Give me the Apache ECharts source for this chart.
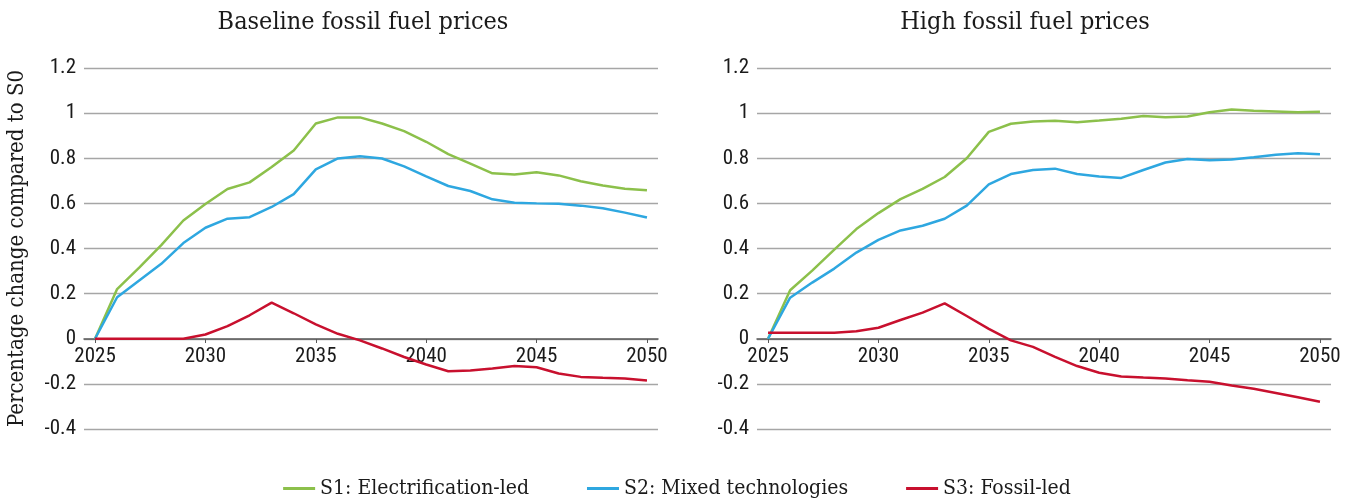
<!DOCTYPE html>
<html>
<head>
<meta charset="utf-8">
<script src="https://cdn.jsdelivr.net/npm/echarts@6/dist/echarts.min.js"></script>
<style>
html,body{margin:0;padding:0;background:#fff;}
#chart{width:1354px;height:502px;}
</style>
</head>
<body>
<div id="chart"></div>
<script>
const years = ['2025','2026','2027','2028','2029','2030','2031','2032','2033','2034','2035','2036','2037','2038','2039','2040','2041','2042','2043','2044','2045','2046','2047','2048','2049','2050'];
const seriesNames = ['S1: Electrification-led','S2: Mixed technologies','S3: Fossil-led'];
const panelTitles = ['Baseline fossil fuel prices','High fossil fuel prices'];
const yAxisTitle = 'Percentage change compared to S0';

const baseS1 = [0,0.22,0.315,0.415,0.524,0.597,0.664,0.693,0.761,0.834,0.954,0.981,0.981,0.954,0.92,0.873,0.818,0.776,0.733,0.728,0.738,0.724,0.698,0.679,0.665,0.658];
const baseS2 = [0,0.184,0.258,0.332,0.424,0.492,0.532,0.539,0.584,0.641,0.751,0.799,0.809,0.799,0.764,0.72,0.677,0.655,0.618,0.603,0.6,0.598,0.59,0.578,0.559,0.537];
const baseS3 = [0,0,0,0,0,0.019,0.056,0.104,0.16,0.113,0.064,0.022,-0.007,-0.043,-0.081,-0.114,-0.144,-0.141,-0.132,-0.121,-0.126,-0.154,-0.169,-0.173,-0.176,-0.185];

const highS1 = [0,0.215,0.302,0.395,0.486,0.557,0.619,0.664,0.717,0.8,0.917,0.953,0.963,0.966,0.96,0.967,0.975,0.987,0.982,0.985,1.004,1.016,1.01,1.007,1.004,1.006];
const highS2 = [0,0.182,0.249,0.311,0.382,0.438,0.48,0.501,0.532,0.59,0.684,0.73,0.748,0.754,0.73,0.719,0.713,0.748,0.781,0.797,0.791,0.794,0.804,0.816,0.822,0.818];
const highS3 = [0.027,0.027,0.027,0.027,0.033,0.049,0.083,0.116,0.157,0.101,0.044,-0.007,-0.036,-0.08,-0.121,-0.151,-0.167,-0.172,-0.176,-0.184,-0.191,-0.207,-0.222,-0.24,-0.259,-0.279];

const colors = ['#8cc04b','#2ea7e0','#c8102e'];
const tickFont = '"Liberation Sans Narrow","Roboto Condensed","Liberation Sans",sans-serif';
const serifFont = '"DejaVu Serif Condensed","Liberation Serif",serif';

function xAxis(gi){
  return {
    type:'category', gridIndex:gi, data:years, boundaryGap:true, position:'bottom', offset:-90,
    axisLine:{onZero:false, lineStyle:{color:'#595959', width:1.5}},
    axisTick:{show:true, interval:4, alignWithLabel:true, length:4, lineStyle:{color:'#595959'}},
    axisLabel:{interval:4, color:'#1a1a1a', fontSize:21, fontFamily:tickFont, margin:7},
    splitLine:{show:false}
  };
}
function yAxis(gi, withName){
  const a = {
    type:'value', gridIndex:gi, min:-0.4, max:1.2, interval:0.2,
    axisLine:{show:false}, axisTick:{show:false},
    axisLabel:{color:'#1a1a1a', fontSize:21, fontFamily:tickFont, margin:8,
      formatter:v=>{ const r=Math.round(v*10)/10; return String(r); }},
    splitLine:{lineStyle:{color:'#a6a6a6', width:1.3}}
  };
  if(withName){
    a.name = yAxisTitle; a.nameLocation='middle'; a.nameGap=56;
    a.nameTextStyle = {fontSize:22, fontFamily:serifFont, color:'#1a1a1a'};
  }
  return a;
}
function line(name, data, xi, ci){
  return {name:name, type:'line', xAxisIndex:xi, yAxisIndex:xi, data:data, symbol:'none',
    lineStyle:{width:2.5, color:colors[ci]}, itemStyle:{color:colors[ci]}, z:3+ci};
}

const chart = echarts.init(document.getElementById('chart'), null, {renderer:'canvas'});
chart.setOption({
  animation:false,
  backgroundColor:'#fff',
  title:[
    {text:panelTitles[0], left:358, top:5, textAlign:'center', textStyle:{fontSize:25, fontWeight:'normal', fontFamily:serifFont, color:'#1a1a1a'}},
    {text:panelTitles[1], left:1020, top:5, textAlign:'center', textStyle:{fontSize:25, fontWeight:'normal', fontFamily:serifFont, color:'#1a1a1a'}}
  ],
  legend:{
    data:seriesNames, bottom:-2, left:'center', icon:'rect', itemWidth:32, itemHeight:3, itemGap:58,
    textStyle:{fontSize:21, fontFamily:serifFont, color:'#1a1a1a'}
  },
  grid:[
    {left:84, right:696, top:68, bottom:73},
    {left:757, right:23, top:68, bottom:73}
  ],
  xAxis:[xAxis(0), xAxis(1)],
  yAxis:[yAxis(0,true), yAxis(1,false)],
  series:[
    line(seriesNames[0], baseS1, 0, 0),
    line(seriesNames[1], baseS2, 0, 1),
    line(seriesNames[2], baseS3, 0, 2),
    line(seriesNames[0], highS1, 1, 0),
    line(seriesNames[1], highS2, 1, 1),
    line(seriesNames[2], highS3, 1, 2)
  ]
});
</script>
</body>
</html>
